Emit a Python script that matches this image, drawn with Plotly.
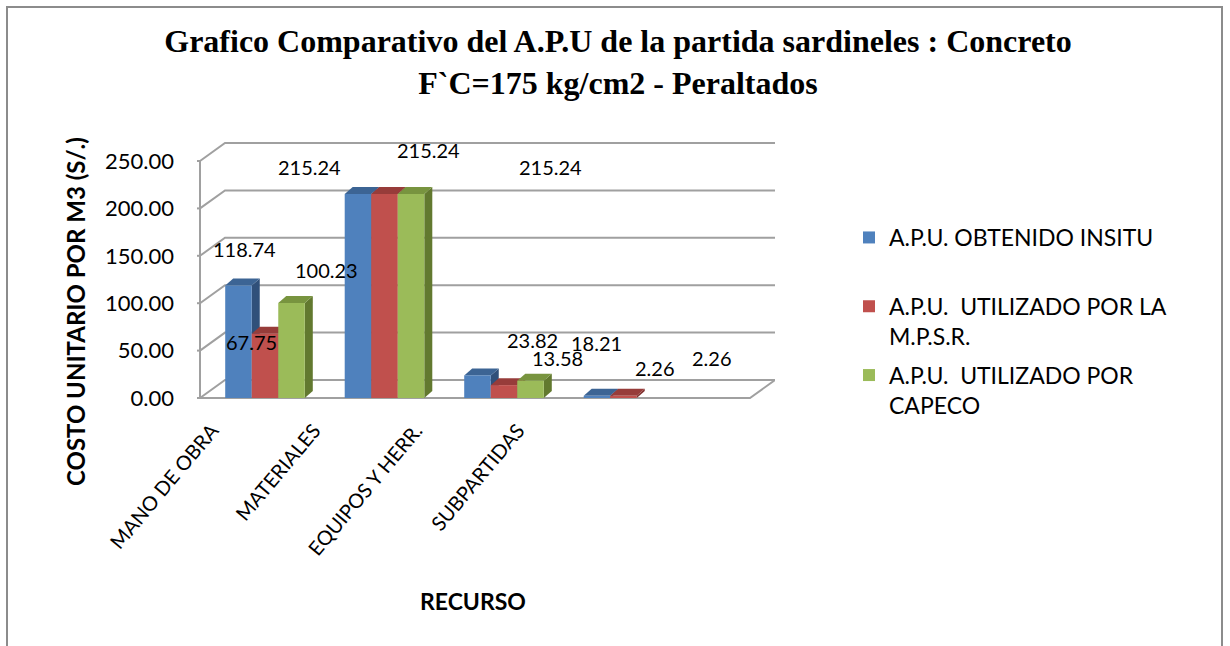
import plotly.graph_objects as go

# ---------------- data ----------------
categories = ["MANO DE OBRA", "MATERIALES", "EQUIPOS Y HERR.", "SUBPARTIDAS"]
series_names = ["A.P.U. OBTENIDO INSITU<br>\u00a0", "A.P.U.  UTILIZADO POR LA<br>M.P.S.R.", "A.P.U.  UTILIZADO POR<br>CAPECO"]
insitu = [118.74, 215.24, 23.82, 2.26]
mpsr = [67.75, 215.24, 13.58, 2.26]
capeco = [100.23, 215.24, 18.21, None]
y_ticks = [0, 50, 100, 150, 200, 250]

title_text = "<b>Grafico Comparativo del A.P.U de la partida sardineles : Concreto<br>F`C=175 kg/cm2 - Peraltados</b>"
y_title = "<b>COSTO UNITARIO POR M3 (S/.)</b>"
x_title = "<b>RECURSO</b>"

# ---------------- style ----------------
W, H = 1230, 646
L, R, T, B = 197, 775, 140, 400          # plot area in pixels
CAT_PX0, CAT_STEP = 265, 119.5            # category centre pixel mapping
Y0_PX, PX_PER_UNIT = 398, 0.948
LBL_PX0, LBL_STEP = 212, 102              # rotated category label anchor mapping
BAR_W = 0.222
BAR_DX_PX, BAR_DY_PX = 8, 7
WALL_DX_PX, WALL_DY_PX = 25, 18
FONT = "Lato"
front_cols = ["#4F81BD", "#C0504D", "#9BBB59"]
top_cols = ["#3C6494", "#973C3A", "#78943F"]
side_cols = ["#30507A", "#80302E", "#62792F"]
grid_col = "#A0A0A0"
# label offsets (px) relative to bar top centre, per series per category
label_dx = [[6, -48, 55, 58], [-14, 44, 53, 88], [35, 139, 66, 0]]
label_dy = [[-37, -28, -36, -29], [7, -45, -28, -39], [-34, -28, -39, 0]]

x_range = [(L - CAT_PX0) / CAT_STEP, (R - CAT_PX0) / CAT_STEP]
y_range = [(Y0_PX - B) / PX_PER_UNIT, (Y0_PX - T) / PX_PER_UNIT]
x2_range = [(L - LBL_PX0) / LBL_STEP, (R - LBL_PX0) / LBL_STEP]


def xd(px):
    return (px - CAT_PX0) / CAT_STEP


def xp(px):
    return (px - L) / (R - L)


def yp(py):
    return (B - py) / (B - T)


all_series = [insitu, mpsr, capeco]
offsets = [-BAR_W, 0.0, BAR_W]

fig = go.Figure()
for name, vals, col in zip(series_names, all_series, front_cols):
    fig.add_trace(go.Bar(
        x=list(range(len(categories))), y=vals, name=name,
        marker=dict(color=col, line=dict(width=0)),
        legendgroup=name, hoverinfo="y",
    ))
# dummy trace so the label axis is drawn
fig.add_trace(go.Scatter(x=list(range(len(categories))), y=[None] * len(categories),
                         xaxis="x2", showlegend=False, hoverinfo="skip"))

shapes = []
dx = BAR_DX_PX / CAT_STEP
dy = BAR_DY_PX / PX_PER_UNIT
wdx = WALL_DX_PX / CAT_STEP
wdy = WALL_DY_PX / PX_PER_UNIT
x_left = xd(200)
x_right = x_range[1]

# walls / gridlines
for v in y_ticks:
    shapes.append(dict(type="path", xref="x", yref="y", layer="below",
                       path=f"M {x_left},{v} L {x_left + wdx},{v + wdy} L {x_right},{v + wdy}",
                       line=dict(color=grid_col, width=2)))
# floor front edge and right slant
shapes.append(dict(type="path", xref="x", yref="y", layer="below",
                   path=f"M {x_left},0 L {x_right - wdx},0 L {x_right},{wdy}",
                   line=dict(color=grid_col, width=2)))
# vertical axis line
shapes.append(dict(type="line", xref="x", yref="y", layer="below",
                   x0=x_left, x1=x_left, y0=0, y1=y_ticks[-1],
                   line=dict(color=grid_col, width=2)))
# tick marks
for v in y_ticks:
    shapes.append(dict(type="line", xref="x", yref="y", layer="below",
                       x0=xd(192), x1=x_left, y0=v, y1=v,
                       line=dict(color=grid_col, width=2)))

# 3D bar faces
for i in range(len(categories)):
    for s, vals in enumerate(all_series):
        v = vals[i]
        if v is None:
            continue
        x0 = i + offsets[s] - BAR_W / 2
        x1 = x0 + BAR_W
        shapes.append(dict(type="path", xref="x", yref="y", layer="between",
                           path=f"M {x1},0 L {x1},{v} L {x1 + dx},{v + dy} L {x1 + dx},{dy} Z",
                           fillcolor=side_cols[s], line=dict(width=0)))
        shapes.append(dict(type="path", xref="x", yref="y", layer="between",
                           path=f"M {x0},{v} L {x1},{v} L {x1 + dx},{v + dy} L {x0 + dx},{v + dy} Z",
                           fillcolor=top_cols[s], line=dict(width=0)))

# chart border
shapes.append(dict(type="rect", xref="paper", yref="paper",
                   x0=xp(7), x1=xp(1222), y0=yp(670), y1=yp(7),
                   line=dict(color="#8C8C8C", width=2), fillcolor="rgba(0,0,0,0)"))

annotations = []
for s, vals in enumerate(all_series):
    for i, v in enumerate(vals):
        if v is None:
            continue
        annotations.append(dict(x=i + offsets[s], y=v, xref="x", yref="y",
                                text=f"{v:.2f}", showarrow=False,
                                xanchor="center", yanchor="middle",
                                xshift=label_dx[s][i], yshift=-label_dy[s][i] - 1,
                                font=dict(family=FONT, size=20, color="black")))

annotations.append(dict(x=xp(75), y=yp(312), xref="paper", yref="paper", text=y_title,
                        textangle=-90, showarrow=False, xanchor="center", yanchor="middle",
                        font=dict(family=FONT, size=24, color="black")))
annotations.append(dict(x=xp(473), y=yp(601), xref="paper", yref="paper", text=x_title,
                        showarrow=False, xanchor="center", yanchor="middle",
                        font=dict(family=FONT, size=23, color="black")))

fig.update_layout(
    template="none",
    width=W, height=H,
    margin=dict(l=L, r=W - R, t=T, b=H - B, autoexpand=False),
    paper_bgcolor="white", plot_bgcolor="white",
    font=dict(family=FONT, color="black"),
    title=dict(text=title_text, x=618 / W, xanchor="center", xref="container",
               y=1 - 52 / H, yanchor="middle",
               font=dict(family="Liberation Serif", size=32, color="black")),
    barmode="group", bargap=1 - 3 * BAR_W, bargroupgap=0,
    showlegend=True,
    legend=dict(x=xp(849), y=yp(216), xanchor="left", yanchor="top",
                font=dict(family=FONT, size=23, color="black"),
                valign="top", tracegroupgap=6, traceorder="grouped",
                bgcolor="rgba(0,0,0,0)", borderwidth=0),
    xaxis=dict(range=x_range, showticklabels=False, showgrid=False, zeroline=False,
               showline=False, ticks="", automargin=False),
    xaxis2=dict(range=x2_range, overlaying="x", side="bottom", anchor="y",
                tickvals=list(range(len(categories))), ticktext=categories,
                tickangle=-50, showgrid=False, zeroline=False, showline=False, ticks="",
                ticklabelstandoff=14, automargin=False,
                tickfont=dict(family=FONT, size=20, color="black")),
    yaxis=dict(range=y_range, tickvals=y_ticks, tickformat=".2f", showgrid=False,
               zeroline=False, showline=False, ticks="", automargin=False,
               ticklabelstandoff=22,
               tickfont=dict(family=FONT, size=22, color="black")),
    shapes=shapes, annotations=annotations,
)

fig.write_html("out.html", config={"displayModeBar": False},
               post_script="document.body.style.margin='0';")
